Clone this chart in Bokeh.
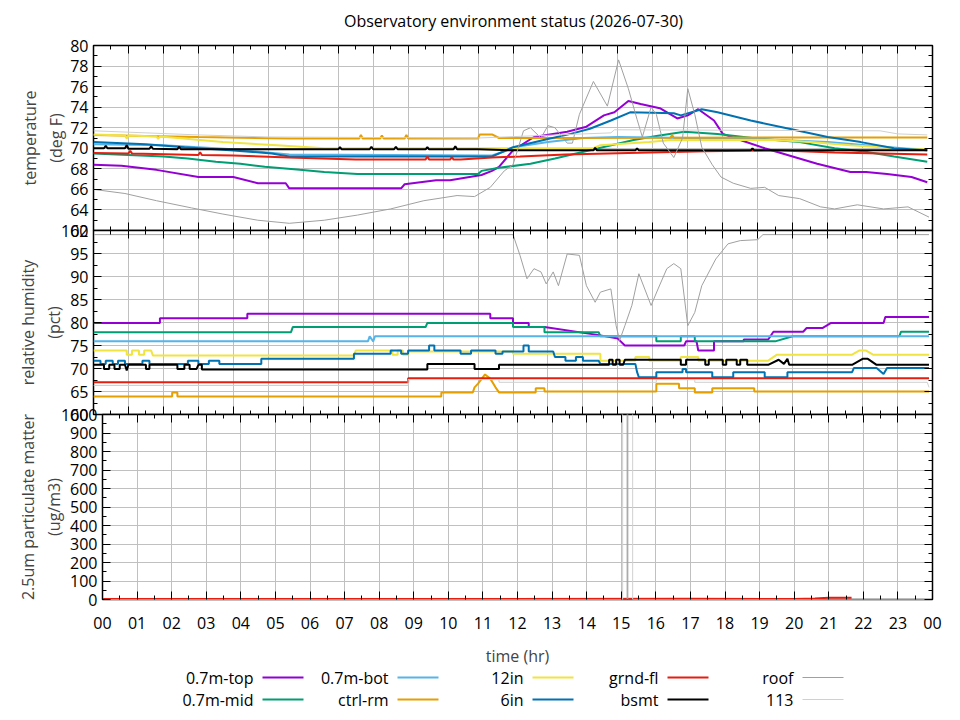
from bokeh.plotting import figure
from bokeh.models import Range1d, FixedTicker, SingleIntervalTicker, LinearAxis
from bokeh.layouts import column
from bokeh.embed import file_html
from bokeh.resources import INLINE
from bokeh.core.properties import value

# ---------------- data (hours, value) ----------------
names = ["0.7m-top", "0.7m-mid", "0.7m-bot", "ctrl-rm", "12in", "6in", "grnd-fl", "bsmt", "roof", "113"]
colors = ["#9400d3", "#009e73", "#56b4e9", "#e69f00", "#f0e442", "#0072b2", "#e51e10", "#000000", "#a0a0a0", "#d0d0d0"]
widths = [2, 2, 2, 2, 2, 2, 2, 2, 1, 1]
hour_labels = ["00", "01", "02", "03", "04", "05", "06", "07", "08", "09", "10", "11",
               "12", "13", "14", "15", "16", "17", "18", "19", "20", "21", "22", "23", "00"]
title_text = "Observatory environment status (2026-07-30)"

# temperature (deg F)
temp_top = [(0,68.4),(0.8,68.3),(1.8,67.9),(3.0,67.2),(4.0,67.2),(4.7,66.6),(5.5,66.6),(5.6,66.1),(8.8,66.1),(8.9,66.5),(9.8,66.9),(10.2,66.9),(11.1,67.4),(11.4,67.8),(11.6,68.2),(12.0,69.8),(12.6,71.1),(13.55,71.6),(14.1,72.1),(14.6,73.2),(14.9,73.5),(15.3,74.6),(15.65,74.3),(16.2,73.9),(16.7,72.9),(17.0,73.2),(17.3,73.8),(17.75,72.7),(18.0,71.4),(18.5,70.8),(19.2,70.0),(19.9,69.3),(20.7,68.5),(21.65,67.7),(22.1,67.7),(22.7,67.5),(23.4,67.2),(23.85,66.7)]
temp_mid = [(0,69.5),(2.0,69.2),(2.7,69.0),(3.5,68.7),(4.2,68.5),(4.9,68.2),(5.9,67.9),(6.6,67.7),(7.55,67.5),(11.0,67.5),(11.1,67.8),(11.6,68.1),(12.5,68.5),(13.2,69.0),(14.2,69.8),(15.45,70.8),(16.1,71.2),(16.9,71.6),(17.85,71.4),(19.1,70.9),(20.2,70.6),(21.2,70.0),(22.0,69.7),(22.9,69.2),(23.85,68.7)]
temp_bot = [(0,70.4),(2.0,70.3),(4.0,69.9),(5.6,69.4),(11.4,69.3),(12.2,70.2),(13.0,70.6),(14.0,71.0),(15.0,71.1),(17.0,71.0),(19.0,70.9),(21.0,70.6),(22.1,70.3),(23.85,69.8)]
temp_ctrl = [(0,71.3),(3.0,71.1),(5.6,70.95),(7.6,70.95),(7.65,71.3),(7.7,70.95),(8.2,70.95),(8.25,71.25),(8.3,70.95),(8.9,70.95),(8.95,71.3),(9.0,70.95),(11.0,70.95),(11.05,71.35),(11.4,71.35),(11.6,71.0),(16.5,71.03),(16.55,71.3),(16.6,71.03),(23.85,71.05)]
temp_12in = [(0,71.35),(0.9,71.25),(0.95,70.95),(1.0,71.25),(1.8,71.15),(1.85,70.9),(1.9,71.15),(2.4,71.0),(3.7,70.6),(5.25,70.3),(6.6,70.0),(14.3,70.0),(14.5,70.3),(15.9,70.6),(16.5,70.8),(19.5,70.8),(20.5,70.6),(21.65,70.3),(23.0,70.0),(23.85,69.9)]
temp_6in = [(0,70.6),(1.5,70.4),(2.6,70.1),(3.9,69.8),(5.1,69.5),(5.6,69.2),(11.4,69.2),(12.0,70.1),(13.0,70.9),(13.65,71.4),(14.2,71.9),(14.8,72.7),(15.35,73.5),(16.6,73.4),(16.8,73.2),(17.4,73.8),(17.85,73.5),(18.8,72.7),(19.9,71.9),(21.0,71.1),(21.95,70.6),(22.9,70.0),(23.85,69.8)]
temp_grnd = [(0,69.55),(1.0,69.5),(1.05,69.75),(1.1,69.5),(3.0,69.35),(3.05,69.6),(3.1,69.35),(4.0,69.3),(5.6,69.1),(7.5,68.9),(9.5,68.9),(9.55,69.2),(9.6,68.9),(10.2,68.9),(10.25,69.15),(10.3,68.9),(10.5,68.9),(11.4,69.1),(12.2,69.2),(13.5,69.4),(15.3,69.55),(17.5,69.7),(19.5,69.8),(21.2,69.6),(23.85,69.4)]
temp_bsmt = [(0,70.0),(0.3,70.0),(0.35,70.25),(0.4,70.0),(0.9,70.0),(0.95,70.3),(1.0,69.95),(1.6,69.95),(1.65,70.2),(1.7,69.95),(2.4,69.9),(2.45,70.15),(2.5,69.9),(7.0,69.9),(7.05,70.1),(7.1,69.9),(7.9,69.9),(7.95,70.15),(8.0,69.9),(8.6,69.9),(8.65,70.15),(8.7,69.9),(9.5,69.9),(9.55,70.1),(9.6,69.9),(10.3,69.9),(10.35,70.2),(10.4,69.9),(11.0,69.9),(12.0,69.8),(14.3,69.8),(14.35,70.05),(14.4,69.8),(15.5,69.8),(15.55,70.0),(15.6,69.8),(18.8,69.8),(18.85,70.0),(18.9,69.8),(23.85,69.8)]
temp_roof = [(0,66.0),(0.9,65.6),(1.8,64.9),(2.8,64.2),(3.7,63.6),(4.7,63.0),(5.6,62.7),(6.6,63.0),(7.55,63.5),(8.5,64.1),(9.45,64.9),(10.4,65.4),(10.9,65.3),(11.35,66.2),(11.75,67.8),(12.0,68.4),(12.3,71.7),(12.5,72.0),(12.8,71.0),(13.0,72.2),(13.2,72.0),(13.55,70.5),(13.7,70.5),(13.9,73.3),(14.3,76.5),(14.7,74.1),(15.02,78.6),(15.3,75.8),(15.55,72.8),(15.7,71.1),(15.95,74.0),(16.1,73.3),(16.3,70.5),(16.6,69.1),(16.85,71.0),(17.0,75.8),(17.2,73.3),(17.4,70.1),(17.7,68.4),(17.95,67.2),(18.3,66.6),(18.8,66.1),(19.2,66.2),(19.6,65.4),(20.2,65.1),(20.8,64.3),(21.2,64.1),(21.85,64.5),(22.6,64.1),(23.3,64.3),(23.9,63.3)]
temp_113 = [(0,71.7),(1.5,71.5),(3.0,71.3),(5.0,71.1),(11.0,71.0),(12.5,71.2),(14.8,71.5),(14.9,71.8),(22.5,71.7),(23.0,71.4),(23.85,71.3)]

# relative humidity (pct)
rh_top = [(0,79.9),(1.9,79.9),(1.9,80.9),(4.4,80.9),(4.4,81.9),(11.35,81.9),(11.35,80.9),(12.0,80.9),(12.0,79.9),(12.45,79.9),(12.45,79.0),(12.9,79.0),(14.5,77.2),(15.0,76.5),(15.2,75.0),(16.9,75.0),(16.95,75.9),(17.25,75.9),(17.3,73.9),(17.75,73.9),(17.75,75.9),(18.6,75.9),(18.6,76.3),(19.3,76.3),(19.45,78.0),(20.3,78.0),(20.4,78.8),(20.85,78.8),(21.1,79.9),(22.6,79.9),(22.65,81.2),(23.9,81.2)]
rh_mid = [(0,77.9),(5.65,77.9),(5.7,79.0),(9.5,79.0),(9.55,79.9),(12.0,79.9),(12.0,79.0),(12.9,79.0),(12.9,77.9),(14.45,77.9),(14.5,77.0),(16.1,77.0),(16.1,75.9),(16.8,75.9),(16.8,77.0),(17.2,77.0),(17.2,75.9),(19.5,75.9),(20.0,77.0),(23.05,77.0),(23.1,78.0),(23.9,78.0)]
rh_bot = [(0,75.9),(7.85,75.9),(7.9,77.0),(8.0,75.9),(8.05,77.0),(23.9,77.0)]
rh_ctrl = [(0,63.9),(2.25,63.9),(2.25,64.8),(2.4,64.8),(2.4,63.9),(9.95,63.9),(9.95,64.8),(10.85,64.8),(10.9,65.9),(11.0,66.7),(11.2,68.7),(11.35,67.8),(11.5,65.9),(11.6,64.8),(12.65,64.8),(12.65,65.7),(12.9,65.7),(12.9,65.0),(16.1,65.0),(16.1,66.7),(16.75,66.7),(16.75,65.7),(17.2,65.7),(17.2,64.8),(17.7,64.8),(17.7,65.7),(18.9,65.7),(18.9,65.0),(23.9,65.0)]
rh_12in = [(0,73.9),(0.95,73.9),(0.95,73.0),(1.1,73.0),(1.1,73.9),(1.3,73.9),(1.3,73.0),(1.45,73.0),(1.45,73.9),(1.65,73.9),(1.7,72.8),(7.45,72.8),(7.5,73.9),(8.55,73.9),(8.55,73.0),(8.7,73.0),(8.7,73.9),(8.85,73.9),(8.85,73.0),(9.0,73.0),(9.0,73.7),(12.0,73.7),(12.0,73.2),(14.5,73.2),(14.5,71.7),(15.5,71.7),(15.5,72.5),(15.9,72.5),(15.9,71.7),(16.8,71.7),(16.8,72.5),(17.3,72.5),(17.3,71.7),(19.3,71.7),(19.55,73.0),(21.7,73.0),(21.9,73.9),(22.1,73.9),(22.3,73.0),(23.9,73.0)]
rh_6in = [(0,71.7),(0.2,71.7),(0.2,71.0),(0.35,71.0),(0.35,71.7),(0.55,71.7),(0.55,71.0),(0.7,71.0),(0.7,71.7),(0.9,71.7),(0.9,71.0),(1.4,71.0),(1.4,71.7),(1.6,71.7),(1.6,71.0),(2.7,71.0),(2.7,71.7),(3.0,71.7),(3.0,71.0),(3.3,71.0),(3.3,71.7),(3.6,71.7),(3.6,71.0),(4.8,71.0),(4.8,72.1),(7.45,72.1),(7.45,73.2),(8.5,73.2),(8.5,73.9),(8.8,73.9),(8.8,73.2),(9.0,73.2),(9.0,73.9),(9.6,73.9),(9.6,75.0),(9.75,75.0),(9.75,73.9),(10.5,73.9),(10.5,73.2),(10.8,73.2),(10.8,73.9),(11.5,73.9),(11.5,73.2),(11.7,73.2),(11.7,73.7),(12.3,73.7),(12.3,75.0),(12.45,75.0),(12.45,73.7),(13.15,73.7),(13.2,72.5),(13.5,72.5),(13.5,71.7),(13.8,71.7),(13.8,72.5),(14.0,72.5),(14.0,71.7),(14.45,71.7),(14.5,71.0),(15.5,71.0),(15.55,69.2),(15.6,68.1),(16.1,68.1),(16.1,69.2),(16.85,69.2),(16.85,69.9),(16.95,69.9),(16.95,69.2),(17.7,69.2),(17.7,68.1),(18.3,68.1),(18.3,69.2),(19.2,69.2),(19.2,68.1),(19.85,68.1),(19.85,69.2),(21.7,69.2),(21.75,70.1),(22.4,70.1),(22.6,68.8),(22.7,70.1),(23.9,70.1)]
rh_grnd = [(0,67.0),(9.0,67.0),(9.0,67.9),(23.9,67.9)]
rh_bsmt = [(0,70.8),(0.3,70.8),(0.3,69.9),(0.45,69.9),(0.45,70.8),(0.6,70.8),(0.6,69.9),(0.75,69.9),(0.75,70.8),(0.9,70.8),(0.95,69.6),(1.0,70.8),(1.5,70.8),(1.5,69.9),(1.6,69.9),(1.6,70.8),(2.4,70.8),(2.4,69.9),(2.6,69.9),(2.6,70.8),(2.75,70.8),(2.75,69.9),(2.95,69.9),(3.0,70.8),(3.1,70.8),(3.1,69.8),(9.55,69.8),(9.55,71.0),(10.9,71.0),(10.9,69.9),(11.6,69.9),(11.6,70.8),(14.75,70.8),(14.75,71.9),(14.85,71.9),(14.85,70.8),(14.95,70.8),(14.95,71.9),(15.05,71.9),(15.05,70.8),(15.15,70.8),(15.2,71.9),(16.8,71.9),(16.8,70.8),(16.95,70.8),(16.95,71.9),(17.5,71.9),(17.5,70.8),(17.6,70.8),(17.6,71.9),(18.0,71.9),(18.0,70.8),(18.1,70.8),(18.1,71.9),(18.4,71.9),(18.4,70.8),(18.5,70.8),(18.5,71.9),(18.7,71.9),(18.7,70.8),(19.3,70.8),(19.6,71.9),(19.75,71.0),(19.85,72.1),(19.9,70.8),(21.7,70.8),(22.0,72.1),(22.15,72.1),(22.4,70.8),(23.9,70.8)]
rh_roof = [(0,99.1),(12.0,99.1),(12.2,94.6),(12.4,89.5),(12.6,91.7),(12.8,91.0),(12.95,88.4),(13.15,91.0),(13.3,88.0),(13.55,94.9),(13.9,94.6),(14.1,88.0),(14.35,84.4),(14.5,86.6),(14.8,87.3),(14.95,79.3),(15.05,76.1),(15.2,79.3),(15.4,83.7),(15.6,90.6),(15.95,83.7),(16.15,87.3),(16.4,91.7),(16.6,92.8),(16.8,91.7),(17.0,79.3),(17.2,82.2),(17.4,88.0),(17.8,93.8),(18.15,97.1),(18.5,97.8),(19.0,98.0),(19.15,99.1),(23.9,99.1)]
rh_113 = [(0,66.3),(9.0,66.3),(9.0,67.6),(11.6,67.6),(11.6,67.0),(16.1,67.0),(16.1,67.6),(17.2,67.6),(17.2,67.0),(23.85,67.0),(23.9,65.9)]

# 2.5um particulate matter (ug/m3)
pm_grnd = [(0,3),(10,3),(17,4),(20,3),(20.6,5),(21.0,9),(21.66,9)]
pm_roof = [(0,0),(15.17,0),(15.17,1500),(15.19,1500),(15.19,0),(23.85,0)]
pm_113 = [(0,0),(15.04,0),(15.04,1500),(15.33,1500),(15.33,0),(23.85,0)]

temp_series = [temp_top, temp_mid, temp_bot, temp_ctrl, temp_12in, temp_6in, temp_grnd, temp_bsmt, temp_roof, temp_113]
rh_series = [rh_top, rh_mid, rh_bot, rh_ctrl, rh_12in, rh_6in, rh_grnd, rh_bsmt, rh_roof, rh_113]
pm_series = [None, None, None, None, None, None, pm_grnd, None, pm_roof, pm_113]

# ---------------- styling ----------------
FONT = "Open Sans"
FS = "16px"
GRID = "#c0c0c0"
W_TOTAL = 936

x_ticker = FixedTicker(ticks=list(range(25)), minor_ticks=[i + 0.5 for i in range(24)])


def no_align(p):
    try:
        p.frame_align = False
    except Exception:
        pass


def style_axis(ax, ticker, labels):
    ax.ticker = ticker
    ax.axis_line_color = None
    ax.major_tick_in = 8
    ax.major_tick_out = 0
    ax.minor_tick_in = 4
    ax.minor_tick_out = 0
    ax.major_tick_line_color = "black"
    ax.minor_tick_line_color = "black"
    ax.major_tick_line_width = 1
    ax.minor_tick_line_width = 1
    if labels:
        ax.major_label_text_font = FONT
        ax.major_label_text_font_size = FS
        ax.major_label_text_color = "black"
        ax.major_label_standoff = 5
    else:
        ax.major_label_text_font_size = "1px"
        ax.major_label_text_color = None
        ax.major_label_standoff = 0


def panel(left, fw, fh, top, bottom, yr, yint, ylabel, lab_standoff, xlabels, margin):
    p = figure(frame_width=fw, frame_height=fh, min_border_left=left, min_border_right=W_TOTAL - left - fw,
               min_border_top=top, min_border_bottom=bottom,
               x_range=Range1d(0, 24), y_range=Range1d(*yr),
               output_backend="svg", toolbar_location=None, margin=margin)
    no_align(p)
    p.background_fill_color = "white"
    p.border_fill_color = None
    p.outline_line_color = "black"
    p.outline_line_width = 1.5
    yt = SingleIntervalTicker(interval=yint, num_minor_ticks=2)
    bottom_ax = p.xaxis[0]
    left_ax = p.yaxis[0]
    style_axis(bottom_ax, x_ticker, xlabels)
    style_axis(left_ax, yt, True)
    left_ax.axis_label = ylabel
    left_ax.axis_label_text_font = FONT
    left_ax.axis_label_text_font_size = FS
    left_ax.axis_label_text_font_style = "normal"
    left_ax.axis_label_standoff = lab_standoff
    top_ax = LinearAxis()
    style_axis(top_ax, x_ticker, False)
    p.add_layout(top_ax, "above")
    right_ax = LinearAxis()
    style_axis(right_ax, yt, False)
    p.add_layout(right_ax, "right")
    p.xgrid.ticker = x_ticker
    p.ygrid.ticker = yt
    for g in (p.xgrid, p.ygrid):
        g.grid_line_color = GRID
        g.grid_line_width = 1
    if xlabels:
        bottom_ax.major_label_overrides = {i: hour_labels[i] for i in range(25)}
        bottom_ax.major_label_standoff = 17
        bottom_ax.axis_label = "time (hr)"
        bottom_ax.axis_label_text_font = FONT
        bottom_ax.axis_label_text_font_size = FS
        bottom_ax.axis_label_text_font_style = "normal"
        bottom_ax.axis_label_standoff = 13
    return p


def draw(p, series):
    for pts, c, w in zip(series, colors, widths):
        if pts is None:
            continue
        p.line([a for a, b in pts], [b for a, b in pts], line_color=c, line_width=w)


def blank(h, margin=(0, 0, 0, 0)):
    f = figure(width=W_TOTAL, height=h, x_range=Range1d(0, W_TOTAL), y_range=Range1d(0, h),
               output_backend="svg", toolbar_location=None, min_border=0,
               x_axis_location=None, y_axis_location=None, margin=margin)
    no_align(f)
    f.outline_line_color = None
    f.background_fill_color = None
    f.border_fill_color = None
    f.grid.visible = False
    return f


# title strip
tfig = blank(30)
tfig.text(x=[505], y=[18], text=[title_text], text_align=value("center"),
          text_baseline=value("alphabetic"), text_font=value(FONT), text_font_size=value(FS),
          text_color="black")

p1 = panel(85, 839, 185, 17, 12, (62, 80), 2, "temperature\n(deg F)", 0, False, (-10, 0, 0, 0))
draw(p1, temp_series)

p2 = panel(85, 839, 184, 12, 12, (60, 100), 5, "relative humidity\n(pct)", -7, False, (-24, 0, 0, 0))
draw(p2, rh_series)

p3 = panel(94, 830, 185, 12, 0, (0, 1000), 100, "2.5um particulate matter\n(ug/m3)", -7, True, (-24, 0, 0, 0))
draw(p3, pm_series)

# legend (gnuplot style: label then sample), two rows x five columns
leg = blank(56, (-10, 0, 0, 0))
lx, ly, sx0, sx1, sy = [], [], [], [], []
for i, n in enumerate(names):
    col, row = i // 2, i % 2
    xe = 245 + 135 * col
    yy = 38 - 22 * row
    lx.append(xe)
    ly.append(yy)
    sx0.append(xe + 9)
    sx1.append(xe + 50)
    sy.append(yy)
leg.text(x=lx, y=ly, text=names, text_align=value("right"), text_baseline=value("middle"),
         text_font=value(FONT), text_font_size=value(FS), text_color="black")
leg.segment(x0=sx0, y0=sy, x1=sx1, y1=sy, line_color=colors, line_width=widths)

layout = column(tfig, p1, p2, p3, leg, spacing=0, margin=(8, 0, 0, 8))
open("out.html", "w").write(file_html(layout, INLINE))
